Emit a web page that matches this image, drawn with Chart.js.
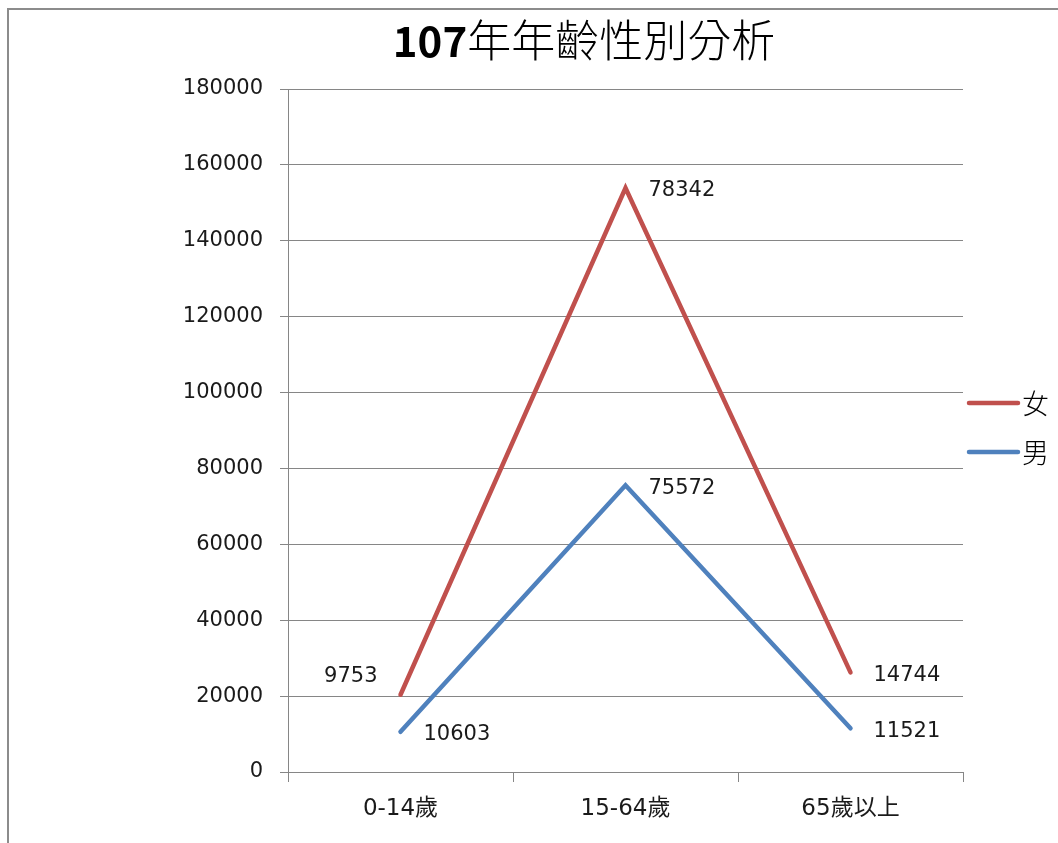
<!DOCTYPE html>
<html>
<head>
<meta charset="utf-8">
<script src="https://cdn.jsdelivr.net/npm/chart.js@4"></script>
<style>
html,body{margin:0;padding:0;background:#fff;}
canvas{display:block;}
</style>
</head>
<body>
<canvas id="c" width="1058" height="843"></canvas>
<script>
const categories = ['0-14歲', '15-64歲', '65歲以上'];
const maleValues = [10603, 75572, 11521];
const femaleValues = [9753, 78342, 14744];
const seriesNames = ['男', '女'];
const titleNum = '107';
const titleText = '年年齡性別分析';
const yMax = 180000;
const yStep = 20000;

const FONT = '"DejaVu Sans", "Noto Sans CJK TC", sans-serif';
const CJK = '"Noto Sans CJK TC", sans-serif';
const RED = '#C0504D';
const BLUE = '#4F81BD';
const GRID = '#868686';

const decor = {
  id: 'decor',
  beforeDraw(chart) {
    const ctx = chart.ctx;
    ctx.save();
    ctx.fillStyle = '#fff';
    ctx.fillRect(0, 0, chart.width, chart.height);
    ctx.strokeStyle = '#8c8c8c';
    ctx.lineWidth = 2;
    ctx.beginPath();
    ctx.moveTo(8, chart.height + 5);
    ctx.lineTo(8, 9);
    ctx.lineTo(chart.width + 5, 9);
    ctx.stroke();
    ctx.restore();
  },
  afterDraw(chart) {
    const ctx = chart.ctx;
    ctx.save();
    // title
    ctx.textBaseline = 'alphabetic';
    ctx.fillStyle = '#000';
    const fNum = 'bold 42px ' + CJK;
    const fTxt = '300 44px ' + CJK;
    ctx.font = fNum; const w1 = ctx.measureText(titleNum).width;
    ctx.font = fTxt; const w2 = ctx.measureText(titleText).width;
    const cx = 584;
    let x0 = cx - (w1 + w2) / 2;
    const by = 57;
    ctx.font = fNum; ctx.textAlign = 'left'; ctx.fillText(titleNum, x0, by);
    ctx.font = fTxt; ctx.fillText(titleText, x0 + w1, by);

    // data labels
    ctx.font = '21px ' + FONT;
    ctx.fillStyle = '#1a1a1a';
    ctx.textBaseline = 'middle';
    chart.data.datasets.forEach((ds, di) => {
      const meta = chart.getDatasetMeta(di);
      meta.data.forEach((pt, i) => {
        const v = ds.data[i];
        if (di === 1 && i === 0) {
          ctx.textAlign = 'right';
          ctx.fillText(String(v), pt.x - 23, pt.y - 18);
        } else {
          ctx.textAlign = 'left';
          ctx.fillText(String(v), pt.x + 23, pt.y + 3);
        }
      });
    });

    // legend (女 first, then 男)
    const items = [[seriesNames[1], RED, 403], [seriesNames[0], BLUE, 452]];
    items.forEach(([name, col, y]) => {
      ctx.strokeStyle = col;
      ctx.lineWidth = 4.5;
      ctx.lineCap = 'round';
      ctx.beginPath();
      ctx.moveTo(969, y);
      ctx.lineTo(1018, y);
      ctx.stroke();
      ctx.fillStyle = '#000';
      ctx.font = '300 27px ' + CJK;
      ctx.textAlign = 'left';
      ctx.textBaseline = 'middle';
      ctx.fillText(name, 1022, y + 1);
    });
    ctx.restore();
  }
};

new Chart(document.getElementById('c'), {
  type: 'line',
  data: {
    labels: categories,
    datasets: [
      { label: seriesNames[0], data: maleValues, borderColor: BLUE, backgroundColor: BLUE, borderWidth: 4.5, pointRadius: 0, fill: false, tension: 0, borderCapStyle: 'round' },
      { label: seriesNames[1], data: femaleValues, borderColor: RED, backgroundColor: RED, borderWidth: 4.5, pointRadius: 0, fill: false, tension: 0, borderCapStyle: 'round' }
    ]
  },
  options: {
    responsive: false,
    animation: false,
    devicePixelRatio: 1,
    layout: { padding: { left: 0, top: 89, right: 95, bottom: 0 } },
    plugins: { legend: { display: false }, title: { display: false }, tooltip: { enabled: false } },
    scales: {
      x: {
        offset: true,
        grid: { offset: true, drawOnChartArea: false, drawTicks: true, tickLength: 10, color: GRID, tickColor: GRID },
        border: { color: GRID, width: 1 },
        ticks: { color: '#1a1a1a', font: { family: FONT, size: 23 }, padding: 13, maxRotation: 0 },
        afterFit(s) { s.height = 71; }
      },
      y: {
        stacked: true,
        min: 0, max: yMax,
        grid: { color: GRID, tickLength: 8, tickColor: GRID, lineWidth: 1 },
        border: { color: GRID, width: 1 },
        ticks: { stepSize: yStep, color: '#1a1a1a', font: { family: FONT, size: 21 }, padding: 17, callback: (v) => String(v) },
        afterFit(s) { s.width = 288; }
      }
    }
  },
  plugins: [decor]
});
</script>
</body>
</html>
